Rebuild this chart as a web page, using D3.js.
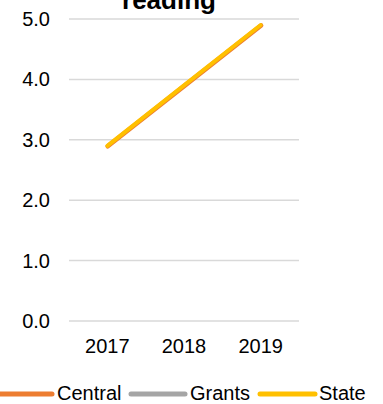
<!DOCTYPE html>
<html>
<head>
<meta charset="utf-8">
<script src="https://cdn.jsdelivr.net/npm/d3@7"></script>
<style>
  html, body { margin: 0; padding: 0; background: #fff; }
  svg { display: block; font-family: "Liberation Sans", Arial, sans-serif; }
</style>
</head>
<body>
<svg id="chart" width="383" height="404"></svg>
<script>
// Chart data
const years = ["2017", "2018", "2019"];
const central = [2.9, 3.9, 4.9];
const grants = [null, null, null];
const state = [2.9, 3.9, 4.9];
const yTicks = [0, 1, 2, 3, 4, 5];

const seriesNames = ["Central", "Grants", "State"];
const seriesColors = ["#ED7D31", "#A5A5A5", "#FFC000"];
const seriesValues = [central, grants, state];

const svg = d3.select("#chart");

const x = d3.scaleBand().domain(years).range([69, 299]);
const y = d3.scaleLinear().domain([0, 5]).range([321, 19]);

// Horizontal gridlines
svg.append("g")
  .selectAll("line")
  .data(yTicks)
  .join("line")
  .attr("x1", 69).attr("x2", 299)
  .attr("y1", d => y(d)).attr("y2", d => y(d))
  .attr("stroke", "#D9D9D9")
  .attr("stroke-width", 1.5);

// Y axis labels
svg.append("g")
  .selectAll("text")
  .data(yTicks)
  .join("text")
  .attr("x", 50)
  .attr("y", d => y(d) + 7)
  .attr("text-anchor", "end")
  .attr("font-size", 20)
  .attr("fill", "#000")
  .text(d => d3.format(".1f")(d));

// X axis labels
svg.append("g")
  .selectAll("text")
  .data(years)
  .join("text")
  .attr("x", d => x(d) + x.bandwidth() / 2)
  .attr("y", 353)
  .attr("text-anchor", "middle")
  .attr("font-size", 20)
  .attr("fill", "#000")
  .text(d => d);

// Series lines
const line = d3.line()
  .defined(d => d.v !== null)
  .x(d => x(d.year) + x.bandwidth() / 2)
  .y(d => y(d.v));

seriesValues.forEach((vals, i) => {
  const pts = years.map((yr, j) => ({ year: yr, v: vals[j] }));
  svg.append("path")
    .datum(pts)
    .attr("d", line)
    .attr("fill", "none")
    .attr("stroke", seriesColors[i])
    .attr("stroke-width", i === 0 ? 4.6 : 4)
    .attr("stroke-linecap", "round")
    .attr("stroke-linejoin", "round")
    .attr("transform", i === 0 ? "translate(0.4,0.4)" : null);
});

// Title
svg.append("text")
  .attr("x", 169)
  .attr("y", 9)
  .attr("text-anchor", "middle")
  .attr("font-size", 26)
  .attr("font-weight", "bold")
  .attr("fill", "#000")
  .text("reading");

// Legend
const legendItems = [
  { x1: -4, x2: 52, tx: 57 },
  { x1: 131, x2: 185, tx: 190 },
  { x1: 260, x2: 315, tx: 319 }
];
const legend = svg.append("g");
legendItems.forEach((it, i) => {
  legend.append("line")
    .attr("x1", it.x1).attr("x2", it.x2)
    .attr("y1", 394).attr("y2", 394)
    .attr("stroke", seriesColors[i])
    .attr("stroke-width", 5)
    .attr("stroke-linecap", "round");
  legend.append("text")
    .attr("x", it.tx)
    .attr("y", 400)
    .attr("font-size", 20)
    .attr("fill", "#000")
    .text(seriesNames[i]);
});
</script>
</body>
</html>
